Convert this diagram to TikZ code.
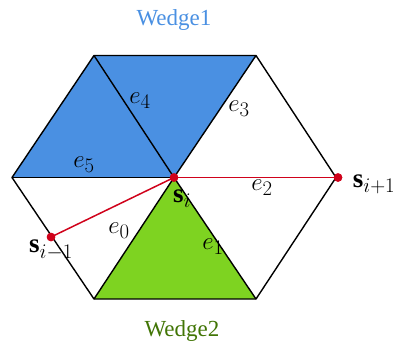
\documentclass[tikz,border=0pt]{standalone}
\usepackage{fontspec}
\setmainfont{Liberation Serif}
\usepackage{amsmath}
\DeclareMathSizes{27}{27}{20}{15}
\definecolor{wblue}{HTML}{4A90E2}
\definecolor{wgreen}{HTML}{7ED321}
\definecolor{wgreentxt}{HTML}{417505}
\definecolor{wred}{HTML}{D0021B}
\begin{document}
\begin{tikzpicture}[x=1pt,y=-1pt,
  edge/.style={draw=black,line width=1.4pt,line join=round},
  redline/.style={draw=wred,line width=1.5pt},
  dot/.style={circle,fill=wred,inner sep=0pt,minimum size=8.5pt},
  lbl/.style={inner sep=0pt,font=\fontsize{27}{30}\selectfont},
  wlbl/.style={inner sep=0pt,font=\fontsize{23}{26}\selectfont}]
\useasboundingbox (0,0) rectangle (395,346);
\coordinate (C) at (174,177.5);
\coordinate (L) at (12,177.5);
\coordinate (R) at (336,177.5);
\coordinate (TL) at (94,55.5);
\coordinate (TR) at (256,55.5);
\coordinate (BL) at (94,299);
\coordinate (BR) at (256,299);
% fills
\fill[wblue] (L) -- (TL) -- (C) -- cycle;
\fill[wblue] (TL) -- (TR) -- (C) -- cycle;
\fill[wgreen] (C) -- (BL) -- (BR) -- cycle;
% edges
\draw[edge] (L) -- (TL) -- (TR) -- (R) -- (BR) -- (BL) -- cycle;
\draw[edge] (L) -- (C);
\draw[edge] (TL) -- (C);
\draw[edge] (TR) -- (C);
\draw[edge] (BL) -- (C);
\draw[edge] (BR) -- (C);
% red
\node[dot] (si) at (C) {};
\node[dot] (sip) at (338,177.5) {};
\node[dot] (sim) at (51,237) {};
\draw[redline] (si.center) -- (sip.center);
\draw[redline] (si.center) -- (sim.center);
\node[dot] at (si) {};
\node[dot] at (sip) {};
\node[dot] at (sim) {};
% labels
\node[lbl] (e4) at (140,101) {$e_4$};
\node[lbl] (e3) at (239,109) {$e_3$};
\node[lbl] (e5) at (84,165) {$e_5$};
\node[lbl] (e2) at (262,188) {$e_2$};
\node[lbl] (e0) at (119,231) {$e_0$};
\node[lbl] (e1) at (213,247) {$e_1$};
\node[lbl] (lsi) at (182,199) {$\mathbf{s}_i$};
\node[lbl] (lsip) at (374,184) {$\mathbf{s}_{i+1}$};
\node[lbl] (lsim) at (51,250) {$\mathbf{s}_{i-1}$};
\node[wlbl,text=wblue] (w1) at (174,20) {Wedge1};
\node[wlbl,text=wgreentxt] (w2) at (182,331) {Wedge2};
\end{tikzpicture}
\end{document}
